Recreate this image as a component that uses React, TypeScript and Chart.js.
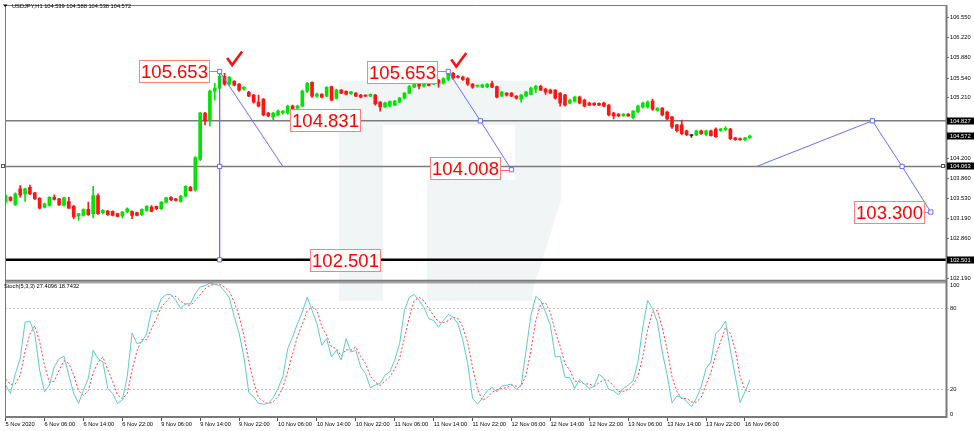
import React, { useEffect, useRef } from 'react';
import { Chart, registerables } from 'chart.js';

Chart.register(...registerables);

// ---------- DATA ----------
const TITLE = 'USDJPY,H1 104.539 104.588 104.538 104.572';
const STOCH_TITLE = 'Stoch(5,3,3) 27.4096 18.7432';

const OPEN = [
  103.465, 103.548, 103.42, 103.687, 103.604, 103.714, 103.62, 103.53, 103.383, 103.41,
  103.548, 103.521, 103.41, 103.476, 103.40, 103.233, 103.244, 103.344, 103.272, 103.576,
  103.289, 103.316, 103.31, 103.272, 103.233, 103.30, 103.31, 103.289, 103.255, 103.327,
  103.383, 103.394, 103.355, 103.465, 103.548, 103.521, 103.476, 103.565, 103.714, 103.664,
  104.18, 104.958, 104.842, 105.323, 105.373, 105.572, 105.44, 105.489, 105.44, 105.356,
  105.306, 105.256, 105.14, 105.19, 104.958, 104.892, 104.925, 104.958, 104.958, 105.074,
  105.04, 105.074, 105.323, 105.47, 105.24, 105.273, 105.24, 105.40, 105.20, 105.34,
  105.32, 105.28, 105.29, 105.256, 105.256, 105.24, 105.256, 105.14, 105.06, 105.07,
  105.09, 105.14, 105.207, 105.29, 105.39, 105.505, 105.405, 105.455, 105.44, 105.505,
  105.455, 105.52, 105.62, 105.57, 105.56, 105.535, 105.44, 105.405, 105.39, 105.40,
  105.45, 105.40, 105.24, 105.29, 105.29, 105.24, 105.19, 105.24, 105.27, 105.356,
  105.405, 105.356, 105.34, 105.34, 105.29, 105.26, 105.124, 105.157, 105.223, 105.174,
  105.124, 105.124, 105.12, 105.124, 105.09, 104.958, 104.94, 104.91, 104.94, 104.88,
  104.975, 105.057, 105.06, 105.157, 105.0, 105.04, 104.975, 104.892, 104.76, 104.76,
  104.66, 104.58, 104.59, 104.66, 104.60, 104.66, 104.69, 104.66, 104.68, 104.69,
  104.54, 104.53, 104.51, 104.539,
];
const HIGH = [
  103.59, 103.56, 103.62, 103.742, 103.70, 103.753, 103.63, 103.54, 103.45, 103.56,
  103.587, 103.53, 103.55, 103.548, 103.41, 103.28, 103.355, 103.465, 103.73, 103.604,
  103.34, 103.33, 103.32, 103.28, 103.31, 103.37, 103.32, 103.30, 103.355, 103.41,
  103.41, 103.40, 103.476, 103.548, 103.56, 103.53, 103.58, 103.742, 103.73, 104.23,
  104.97, 104.97, 105.34, 105.455, 105.653, 105.621, 105.57, 105.50, 105.45, 105.40,
  105.32, 105.27, 105.256, 105.20, 104.97, 104.97, 105.01, 105.0, 105.09, 105.09,
  105.09, 105.34, 105.47, 105.48, 105.29, 105.28, 105.40, 105.41, 105.36, 105.35,
  105.33, 105.32, 105.30, 105.27, 105.26, 105.28, 105.27, 105.15, 105.14, 105.16,
  105.17, 105.22, 105.30, 105.42, 105.52, 105.52, 105.47, 105.47, 105.52, 105.52,
  105.55, 105.653, 105.64, 105.59, 105.575, 105.55, 105.45, 105.43, 105.44, 105.45,
  105.49, 105.41, 105.32, 105.30, 105.30, 105.25, 105.27, 105.32, 105.39, 105.42,
  105.42, 105.37, 105.36, 105.35, 105.30, 105.27, 105.19, 105.24, 105.24, 105.19,
  105.14, 105.13, 105.13, 105.14, 105.10, 104.97, 104.95, 104.95, 104.95, 105.00,
  105.09, 105.14, 105.16, 105.19, 105.05, 105.05, 104.99, 104.90, 104.77, 104.84,
  104.67, 104.60, 104.67, 104.67, 104.67, 104.67, 104.71, 104.70, 104.73, 104.70,
  104.55, 104.54, 104.55, 104.588,
];
const LOW = [
  103.45, 103.48, 103.41, 103.548, 103.476, 103.59, 103.51, 103.35, 103.37, 103.40,
  103.50, 103.41, 103.40, 103.355, 103.19, 103.161, 103.23, 103.244, 103.20, 103.26,
  103.27, 103.244, 103.233, 103.22, 103.20, 103.29, 103.189, 103.233, 103.24, 103.31,
  103.30, 103.34, 103.34, 103.45, 103.49, 103.48, 103.465, 103.55, 103.648, 103.65,
  104.16, 104.759, 104.742, 105.174, 105.36, 105.42, 105.42, 105.41, 105.32, 105.34,
  105.23, 105.124, 105.06, 104.91, 104.89, 104.84, 104.91, 104.94, 104.94, 104.99,
  105.02, 105.06, 105.30, 105.22, 105.22, 105.21, 105.23, 105.16, 105.19, 105.28,
  105.26, 105.27, 105.23, 105.21, 105.23, 105.23, 105.09, 104.99, 105.05, 105.06,
  105.08, 105.13, 105.19, 105.28, 105.38, 105.36, 105.39, 105.41, 105.43, 105.39,
  105.44, 105.50, 105.52, 105.54, 105.505, 105.42, 105.37, 105.39, 105.38, 105.38,
  105.38, 105.21, 105.23, 105.24, 105.23, 105.19, 105.14, 105.23, 105.26, 105.30,
  105.33, 105.27, 105.28, 105.19, 105.07, 105.07, 105.11, 105.14, 105.11, 105.06,
  105.08, 105.08, 105.08, 105.06, 104.91, 104.86, 104.89, 104.90, 104.90, 104.86,
  104.96, 105.04, 105.04, 105.0, 104.99, 104.91, 104.84, 104.70, 104.64, 104.59,
  104.58, 104.55, 104.58, 104.60, 104.58, 104.57, 104.55, 104.65, 104.66, 104.51,
  104.50, 104.50, 104.49, 104.538,
];
const CLOSE = [
  103.576, 103.493, 103.604, 103.587, 103.687, 103.604, 103.521, 103.366, 103.438, 103.548,
  103.51, 103.42, 103.537, 103.366, 103.217, 103.272, 103.344, 103.255, 103.576, 103.272,
  103.327, 103.255, 103.244, 103.228, 103.30, 103.355, 103.244, 103.244, 103.344, 103.394,
  103.31, 103.355, 103.465, 103.537, 103.504, 103.493, 103.565, 103.73, 103.659, 104.212,
  104.958, 104.825, 105.323, 105.373, 105.572, 105.44, 105.555, 105.422, 105.34, 105.389,
  105.24, 105.14, 105.074, 104.925, 104.908, 104.958, 104.99, 104.99, 105.074, 105.024,
  105.074, 105.323, 105.455, 105.24, 105.273, 105.223, 105.389, 105.174, 105.34, 105.29,
  105.273, 105.31, 105.24, 105.223, 105.24, 105.27, 105.108, 105.06, 105.124, 105.15,
  105.157, 105.207, 105.29, 105.40, 105.505, 105.405, 105.455, 105.42, 105.505, 105.455,
  105.535, 105.62, 105.54, 105.555, 105.52, 105.44, 105.39, 105.422, 105.43, 105.44,
  105.39, 105.223, 105.306, 105.256, 105.24, 105.207, 105.256, 105.306, 105.373, 105.405,
  105.34, 105.306, 105.29, 105.207, 105.124, 105.09, 105.174, 105.223, 105.124, 105.074,
  105.09, 105.091, 105.09, 105.074, 104.925, 104.908, 104.91, 104.94, 104.91, 104.99,
  105.074, 105.124, 105.14, 105.02, 105.04, 104.925, 104.858, 104.726, 104.66, 104.61,
  104.593, 104.58, 104.66, 104.61, 104.66, 104.58, 104.56, 104.69, 104.70, 104.527,
  104.51, 104.51, 104.54, 104.572,
];

const STOCH_K = [
  23.5, 17.4, 32, 43, 70, 70.8, 61.5, 34.6, 18.6, 23.5,
  37, 43, 44.9, 30.9, 17.4, 10, 19.9, 28.5, 49.3, 43,
  40.7, 21.1, 17.4, 10, 12.5, 29.7, 62, 54.2, 55.4, 61.5,
  78.7, 77.5, 87.3, 90.5, 90.5, 86, 80, 83.6, 83.6, 91,
  96, 97, 99, 98, 97, 93, 88, 74, 62, 44,
  18, 15, 10, 9.5, 10, 14, 21, 30, 50.5, 59,
  69, 77.5, 88.5, 78.7, 68.9, 53, 57.9, 44.3, 49.3, 42,
  57.9, 48, 49.3, 37, 32, 21.6, 23.5, 24.8, 30.9, 33.4,
  42, 54.2, 78.7, 88.5, 90.5, 86, 81, 72.6, 71.3, 66.4,
  71.3, 75.7, 73.8, 68.9, 56.6, 39.5, 13.7, 9.6, 13.7, 19.5,
  21.8, 18.6, 22.8, 23.5, 24.3, 20.4, 23.5, 49.3, 75, 89,
  86, 77.5, 67.7, 44.3, 44.9, 29.2, 29.2, 21.1, 27.7, 24.3,
  21.1, 22.8, 31.6, 28.5, 20.4, 19.4, 16.2, 21.1, 23.5, 26.7,
  40.7, 66.4, 86, 80, 70.1, 48, 30.9, 10.6, 15.5, 14.5,
  11.3, 7.6, 13.7, 22.3, 35.8, 40.7, 61.5, 65.2, 70.9, 49.3,
  30.2, 10.6, 18.6, 27.41,
];
const STOCH_D = [
  28, 24, 24.3, 30.8, 48.3, 61.3, 67.4, 55.6, 38.2, 25.6,
  26.4, 34.5, 41.6, 39.6, 31.1, 19.4, 15.8, 19.5, 32.6, 40.3,
  44.3, 34.9, 26.4, 16.2, 13.3, 17.4, 34.7, 48.6, 57.2, 57,
  65.2, 72.6, 81.2, 85.1, 89.4, 89, 85.5, 83.2, 82.4, 86.1,
  90.2, 94.7, 97.3, 98, 98, 96, 92.7, 85, 74.7, 60,
  41.3, 25.7, 14.3, 11.5, 9.8, 11.2, 15, 21.7, 33.8, 46.5,
  59.5, 68.5, 78.3, 81.6, 78.7, 66.9, 59.9, 51.7, 50.5, 45.2,
  49.7, 49.3, 51.7, 44.8, 39.4, 30.2, 25.7, 23.3, 26.4, 29.7,
  35.4, 43.2, 58.3, 73.8, 85.9, 88.3, 85.8, 79.9, 75, 70.1,
  69.7, 71.1, 73.6, 72.8, 66.4, 55, 36.6, 20.9, 12.3, 14.3,
  18.3, 20, 21.1, 21.6, 23.5, 22.7, 22.7, 31.1, 49.3, 71.1,
  83.3, 84.2, 77.1, 63.2, 52.3, 39.5, 34.4, 26.5, 26, 24.4,
  24.4, 22.7, 25.2, 27.6, 26.8, 22.8, 18.7, 18.9, 20.3, 23.8,
  30.3, 44.6, 64.4, 77.5, 78.7, 66, 49.7, 29.8, 19, 13.5,
  13.8, 11.1, 10.9, 14.5, 23.9, 32.9, 46, 55.8, 65.9, 61.8,
  50.1, 30, 19.8, 18.74,
];

const X_TICK_INDEX = [0, 8, 16, 24, 32, 40, 48, 56, 64, 72, 80, 88, 96, 104, 112, 120, 128, 136, 144, 152];
const X_TICK_LABELS = [
  '5 Nov 2020', '6 Nov 06:00', '6 Nov 14:00', '6 Nov 22:00', '9 Nov 06:00', '9 Nov 14:00',
  '9 Nov 22:00', '10 Nov 06:00', '10 Nov 14:00', '10 Nov 22:00', '11 Nov 06:00', '11 Nov 14:00',
  '11 Nov 22:00', '12 Nov 06:00', '12 Nov 14:00', '12 Nov 22:00', '13 Nov 06:00', '13 Nov 14:00',
  '13 Nov 22:00', '16 Nov 06:00',
];
const PRICE_TICKS = [106.55, 106.22, 105.88, 105.54, 105.21, 104.2, 103.86, 103.53, 103.19, 102.86, 102.19];
const STOCH_TICKS = [0, 20, 80, 100];
const STOCH_LEVELS = [20, 80];

const LEVEL_GRAY = [104.827, 104.063];
const LEVEL_BLACK = [102.501];
const PRICE_TAGS = [104.827, 104.572, 104.063, 102.501];

const TREND_A_X = [44, 57];
const TREND_A_Y = [105.653, 104.063];
const TREND_B_X = [91, 97.6, 104];
const TREND_B_Y = [105.653, 104.827, 104.008];
const TREND_C_X = [154.4, 178.2, 184.3, 190.2];
const TREND_C_Y = [104.063, 104.827, 104.063, 103.3];
const VERT_X = [44, 44, 44];
const VERT_Y = [105.653, 104.063, 102.501];

const CALLOUT_TEXT = ['105.653', '105.653', '104.831', '104.008', '103.300', '102.501'];
const CALLOUT_X = [44, 91, 74.5, 104, 190.2, 77.5];
const CALLOUT_Y = [105.653, 105.653, 104.831, 104.008, 103.3, 102.501];

// ---------- STYLE / LAYOUT ----------
const FONT = '"Liberation Sans", Arial, sans-serif';
const SMALL = 5.7;
const UP = '#00e400';
const DN = '#ff1414';
const DOJI = '#333333';
const BLUE = '#6b6bff';
const CALLOUT_GAP = [9.5, 10, 7, 10, 6, 2];
const CALLOUT_DY = [0.5, 1.5, 0, -1, 0, 0.5];
const CALLOUT_LINK = [true, true, false, true, true, false];
const CHECK_AT = [0, 1];
const CHECK_DX = [15, 10.5];
const CHECK_DY = [-13, -11.5];

const decor = {
  id: 'decor',
  beforeDatasetsDraw(chart: any) {
    const { ctx, chartArea: a, scales } = chart;
    const ys = scales.y;
    ctx.save();
    ctx.beginPath();
    ctx.rect(a.left, a.top, a.right - a.left, a.bottom - a.top);
    ctx.clip();
    // watermark
    ctx.fillStyle = '#f1f5f6';
    ctx.beginPath();
    ctx.rect(339, 81, 44, 220);
    ctx.moveTo(383, 81);
    ctx.lineTo(525, 81);
    ctx.quadraticCurveTo(561, 81, 561, 117);
    ctx.lineTo(561, 200);
    ctx.lineTo(533, 290);
    ctx.lineTo(531, 301);
    ctx.lineTo(427, 301);
    ctx.lineTo(427, 180);
    ctx.lineTo(515, 180);
    ctx.lineTo(515, 125);
    ctx.lineTo(383, 125);
    ctx.closePath();
    ctx.fill();
    // horizontal levels
    LEVEL_GRAY.forEach((v) => {
      const y = ys.getPixelForValue(v);
      ctx.strokeStyle = '#7c7c7c';
      ctx.lineWidth = 1.6;
      ctx.beginPath();
      ctx.moveTo(a.left, y);
      ctx.lineTo(a.right, y);
      ctx.stroke();
    });
    LEVEL_BLACK.forEach((v) => {
      const y = ys.getPixelForValue(v);
      ctx.strokeStyle = '#000';
      ctx.lineWidth = 2.6;
      ctx.beginPath();
      ctx.moveTo(a.left, y);
      ctx.lineTo(a.right, y);
      ctx.stroke();
    });
    ctx.restore();
  },
  afterDatasetsDraw(chart: any) {
    const { ctx, scales } = chart;
    const xs = scales.x;
    const ys = scales.y;
    ctx.save();
    CALLOUT_TEXT.forEach((t, k) => {
      const ax = xs.getPixelForValue(CALLOUT_X[k]);
      const ay = ys.getPixelForValue(CALLOUT_Y[k]);
      ctx.font = '18.5px ' + FONT;
      const tw = ctx.measureText(t).width;
      const bw = Math.round(tw + 4);
      const bh = 23;
      const bx1 = Math.round(ax - CALLOUT_GAP[k]);
      const bx0 = bx1 - bw;
      const cy = ay + CALLOUT_DY[k];
      const by0 = Math.round(cy - bh / 2);
      if (CALLOUT_LINK[k]) {
        ctx.strokeStyle = '#ff6a6a';
        ctx.lineWidth = 1;
        ctx.beginPath();
        ctx.moveTo(bx1, Math.round(ay) + 0.5);
        ctx.lineTo(ax - 2, Math.round(ay) + 0.5);
        ctx.stroke();
      }
      ctx.fillStyle = '#fff';
      ctx.fillRect(bx0, by0, bw, bh);
      ctx.strokeStyle = '#ff8080';
      ctx.lineWidth = 1;
      ctx.strokeRect(bx0 + 0.5, by0 + 0.5, bw - 1, bh - 1);
      ctx.fillStyle = '#ff0000';
      ctx.textAlign = 'center';
      ctx.textBaseline = 'middle';
      ctx.fillText(t, bx0 + bw / 2, by0 + bh / 2 + 1);
    });
    CHECK_AT.forEach((k, j) => {
      const cx = xs.getPixelForValue(CALLOUT_X[k]) + CHECK_DX[j];
      const cy = ys.getPixelForValue(CALLOUT_Y[k]) + CHECK_DY[j];
      ctx.strokeStyle = '#ff1010';
      ctx.lineWidth = 2.6;
      ctx.lineJoin = 'miter';
      ctx.lineCap = 'butt';
      ctx.beginPath();
      ctx.moveTo(cx - 7.5, cy - 0.5);
      ctx.lineTo(cx - 2.5, cy + 6.5);
      ctx.lineTo(cx + 7.5, cy - 7);
      ctx.stroke();
    });
    ctx.restore();
  },
  afterDraw(chart: any) {
    const { ctx, chartArea: a, scales } = chart;
    const ys = scales.y;
    const y2 = scales.y2;
    ctx.save();
    const sepY = ys.bottom;
    // frames
    ctx.strokeStyle = '#7a7a7a';
    ctx.lineWidth = 1;
    ctx.beginPath();
    ctx.moveTo(a.left + 0.5, a.top + 0.5);
    ctx.lineTo(a.right, a.top + 0.5);
    ctx.moveTo(a.left + 0.5, a.top);
    ctx.lineTo(a.left + 0.5, a.bottom);
    ctx.stroke();
    ctx.lineWidth = 2;
    ctx.beginPath();
    ctx.moveTo(a.right + 0.5, a.top);
    ctx.lineTo(a.right + 0.5, a.bottom + 1);
    ctx.moveTo(a.left, a.bottom);
    ctx.lineTo(a.right + 1, a.bottom);
    ctx.moveTo(a.left, sepY - 0.5);
    ctx.lineTo(a.right + 1, sepY - 0.5);
    ctx.stroke();
    ctx.lineWidth = 1;
    ctx.beginPath();
    ctx.moveTo(a.left, sepY + 1.5);
    ctx.lineTo(a.right, sepY + 1.5);
    ctx.stroke();
    // small end squares on 104.063 level
    const ly = Math.round(ys.getPixelForValue(LEVEL_GRAY[1]));
    ctx.fillStyle = '#fff';
    ctx.strokeStyle = '#555';
    ctx.lineWidth = 1;
    [3, 943].forEach((x) => {
      ctx.fillRect(x - 1.5, ly - 1.5, 3, 3);
      ctx.strokeRect(x - 1.5, ly - 1.5, 3, 3);
    });
    // title
    ctx.fillStyle = '#000';
    ctx.beginPath();
    ctx.moveTo(3, 4.5);
    ctx.lineTo(7.5, 4.5);
    ctx.lineTo(5.25, 7);
    ctx.closePath();
    ctx.fill();
    ctx.font = SMALL + 'px ' + FONT;
    ctx.textAlign = 'left';
    ctx.textBaseline = 'middle';
    ctx.fillText(TITLE, 12, 6.5);
    ctx.fillText(STOCH_TITLE, 4, 286);
    // stoch 100 / 0 labels
    ctx.fillText('100', 950, y2.getPixelForValue(100) + 4);
    ctx.fillText('0', 950, y2.getPixelForValue(0) - 3);
    // price tags
    PRICE_TAGS.forEach((v) => {
      const y = Math.round(ys.getPixelForValue(v));
      ctx.fillStyle = '#000';
      ctx.fillRect(947, y - 3.5, 27, 7);
      ctx.fillStyle = '#fff';
      ctx.fillText(v.toFixed(3), 950, y);
    });
    ctx.restore();
  },
};

export default function App() {
  const ref = useRef<HTMLCanvasElement>(null);
  useEffect(() => {
    if (!ref.current) return;
    Chart.defaults.font.family = FONT;
    const colors = OPEN.map((o, i) => (CLOSE[i] > o ? UP : CLOSE[i] < o ? DN : DOJI));
    const pts = (xs: number[], vs: number[]) => xs.map((x, i) => ({ x, y: vs[i] }));
    const trend = (xs: number[], vs: number[], radii: number[]) => ({
      type: 'line',
      data: pts(xs, vs),
      yAxisID: 'y',
      borderColor: BLUE,
      borderWidth: 1,
      pointStyle: 'rect',
      pointRadius: radii,
      pointBackgroundColor: '#fff',
      pointBorderColor: BLUE,
      pointBorderWidth: 1,
      tension: 0,
      order: 0,
    });
    const tickFont = { size: SMALL, family: FONT };
    const cfg: any = {
      type: 'bar',
      data: {
        datasets: [
          trend(VERT_X, VERT_Y, [3, 3, 3]),
          trend(TREND_A_X, TREND_A_Y, [0, 0]),
          trend(TREND_B_X, TREND_B_Y, [3, 3, 3]),
          trend(TREND_C_X, TREND_C_Y, [0, 3, 3, 3]),
          {
            type: 'bar',
            data: OPEN.map((o, i) => ({ x: i, y: [Math.min(o, CLOSE[i]), Math.max(o, CLOSE[i])] })),
            backgroundColor: colors,
            barThickness: 3,
            minBarLength: 1,
            grouped: false,
            borderWidth: 0,
            yAxisID: 'y',
            order: 1,
          },
          {
            type: 'bar',
            data: OPEN.map((_, i) => ({ x: i, y: [LOW[i], HIGH[i]] })),
            backgroundColor: colors,
            barThickness: 1,
            minBarLength: 1,
            grouped: false,
            borderWidth: 0,
            yAxisID: 'y',
            order: 2,
          },
          {
            type: 'line',
            data: STOCH_K.map((v, i) => ({ x: i, y: v })),
            yAxisID: 'y2',
            borderColor: '#5ccaca',
            borderWidth: 1,
            pointRadius: 0,
            tension: 0,
            order: 3,
          },
          {
            type: 'line',
            data: STOCH_D.map((v, i) => ({ x: i, y: v })),
            yAxisID: 'y2',
            borderColor: '#ff3b3b',
            borderWidth: 1,
            borderDash: [2, 2],
            pointRadius: 0,
            tension: 0,
            order: 3,
          },
        ],
      },
      options: {
        responsive: false,
        animation: false,
        events: [],
        layout: { padding: { left: 1, top: 1, right: 0, bottom: 0 } },
        plugins: { legend: { display: false }, tooltip: { enabled: false } },
        scales: {
          x: {
            type: 'linear',
            position: 'bottom',
            min: -0.123,
            max: 193.33,
            offset: false,
            afterBuildTicks: (s: any) => {
              s.ticks = X_TICK_INDEX.map((v) => ({ value: v }));
            },
            afterFit: (s: any) => {
              s.height = 14;
            },
            grid: { drawOnChartArea: false, drawTicks: true, tickLength: 4, color: '#555', offset: false },
            border: { display: false },
            ticks: {
              autoSkip: false,
              maxRotation: 0,
              minRotation: 0,
              align: 'start',
              padding: 0,
              color: '#000',
              font: tickFont,
              callback: (v: any) => X_TICK_LABELS[X_TICK_INDEX.indexOf(Number(v))],
            },
          },
          y: {
            type: 'linear',
            position: 'right',
            stack: 'panes',
            stackWeight: 279,
            min: 102.1402,
            max: 106.7655,
            afterBuildTicks: (s: any) => {
              s.ticks = PRICE_TICKS.map((v) => ({ value: v }));
            },
            afterFit: (s: any) => {
              s.width = 28;
            },
            grid: { drawOnChartArea: false, drawTicks: true, tickLength: 3, color: '#666' },
            border: { display: false },
            ticks: {
              padding: 1,
              color: '#000',
              font: tickFont,
              callback: (v: any) => Number(v).toFixed(3),
            },
          },
          y2: {
            type: 'linear',
            position: 'right',
            stack: 'panes',
            stackWeight: 137,
            min: 0,
            max: 100.2,
            afterBuildTicks: (s: any) => {
              s.ticks = STOCH_TICKS.map((v) => ({ value: v }));
            },
            afterFit: (s: any) => {
              s.width = 28;
            },
            grid: {
              drawOnChartArea: true,
              drawTicks: true,
              tickLength: 3,
              color: (c: any) =>
                c.tick && STOCH_LEVELS.indexOf(c.tick.value) >= 0 ? '#c6c6c6' : 'rgba(0,0,0,0)',
            },
            border: { display: false, dash: [2, 2] },
            ticks: {
              padding: 1,
              color: '#000',
              font: tickFont,
              callback: (v: any) => (STOCH_LEVELS.indexOf(Number(v)) >= 0 ? String(v) : ''),
            },
          },
        },
      },
      plugins: [decor],
    };
    const chart = new Chart(ref.current, cfg);
    return () => chart.destroy();
  }, []);
  return (
    <div style={{ position: 'absolute', left: 0, top: 0, width: 974, height: 431, background: '#fff' }}>
      <canvas ref={ref} width={974} height={431} style={{ display: 'block', width: 974, height: 431 }} />
    </div>
  );
}
